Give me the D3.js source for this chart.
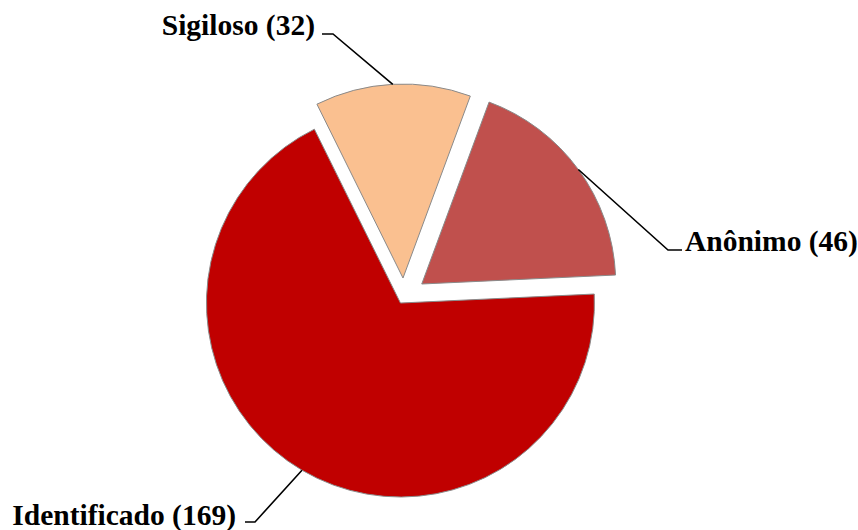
<!DOCTYPE html>
<html>
<head>
<meta charset="utf-8">
<script src="https://cdn.jsdelivr.net/npm/d3@7"></script>
<style>
  body { margin: 0; background: #fff; }
  .lbl { font-family: "Liberation Serif", "Times New Roman", serif; font-weight: bold; font-size: 29.5px; fill: #000; }
</style>
</head>
<body>
<div id="chart"></div>
<script>
// data
var categories = ["Anônimo", "Identificado", "Sigiloso"];
var values = [46, 169, 32];
var colors = ["#C0504D", "#C00000", "#FAC090"];

// layout
var svgWidth = 858;
var svgHeight = 530;
var cx = 404, cy = 297;
var radius = 194;
var explode = [22, 7, 19];
var startDeg = 20.3;
// elbow of each leader line, tick direction and text spot
var labelLayout = [
  { elbow: [668, 250], tick: 14, tx: 685, ty: 251, anchor: "start" },
  { elbow: [255, 522], tick: -10, tx: 236, ty: 525, anchor: "end" },
  { elbow: [333, 34], tick: -11, tx: 315, ty: 35, anchor: "end" }
];

var svg = d3.select("#chart")
  .append("svg")
  .attr("width", svgWidth)
  .attr("height", svgHeight);

var chartGroup = svg.append("g")
  .attr("transform", `translate(${cx}, ${cy})`);

var start = startDeg * Math.PI / 180;
var pie = d3.pie()
  .sort(null)
  .value(d => d)
  .startAngle(start)
  .endAngle(start + 2 * Math.PI);

var arc = d3.arc().innerRadius(0).outerRadius(radius);
var arcs = pie(values);

function offset(d, i) {
  var a = (d.startAngle + d.endAngle) / 2;
  return [Math.sin(a) * explode[i], -Math.cos(a) * explode[i]];
}

chartGroup.selectAll("path.slice")
  .data(arcs)
  .enter()
  .append("path")
  .attr("class", "slice")
  .attr("transform", (d, i) => `translate(${offset(d, i)})`)
  .attr("d", arc)
  .attr("fill", (d, i) => colors[i])
  .attr("stroke", "#8a8a8a")
  .attr("stroke-width", 1);

// leader lines + labels
arcs.forEach(function(d, i) {
  var a = (d.startAngle + d.endAngle) / 2;
  var o = offset(d, i);
  var px = cx + o[0] + Math.sin(a) * radius;
  var py = cy + o[1] - Math.cos(a) * radius;
  var L = labelLayout[i];
  svg.append("polyline")
    .attr("points", [[px, py], L.elbow, [L.elbow[0] + L.tick, L.elbow[1]]].map(p => p.join(",")).join(" "))
    .attr("fill", "none")
    .attr("stroke", "#000")
    .attr("stroke-width", 1.6);
  svg.append("text")
    .attr("class", "lbl")
    .attr("x", L.tx)
    .attr("y", L.ty)
    .attr("text-anchor", L.anchor)
    .text(`${categories[i]} (${values[i]})`);
});
</script>
</body>
</html>
